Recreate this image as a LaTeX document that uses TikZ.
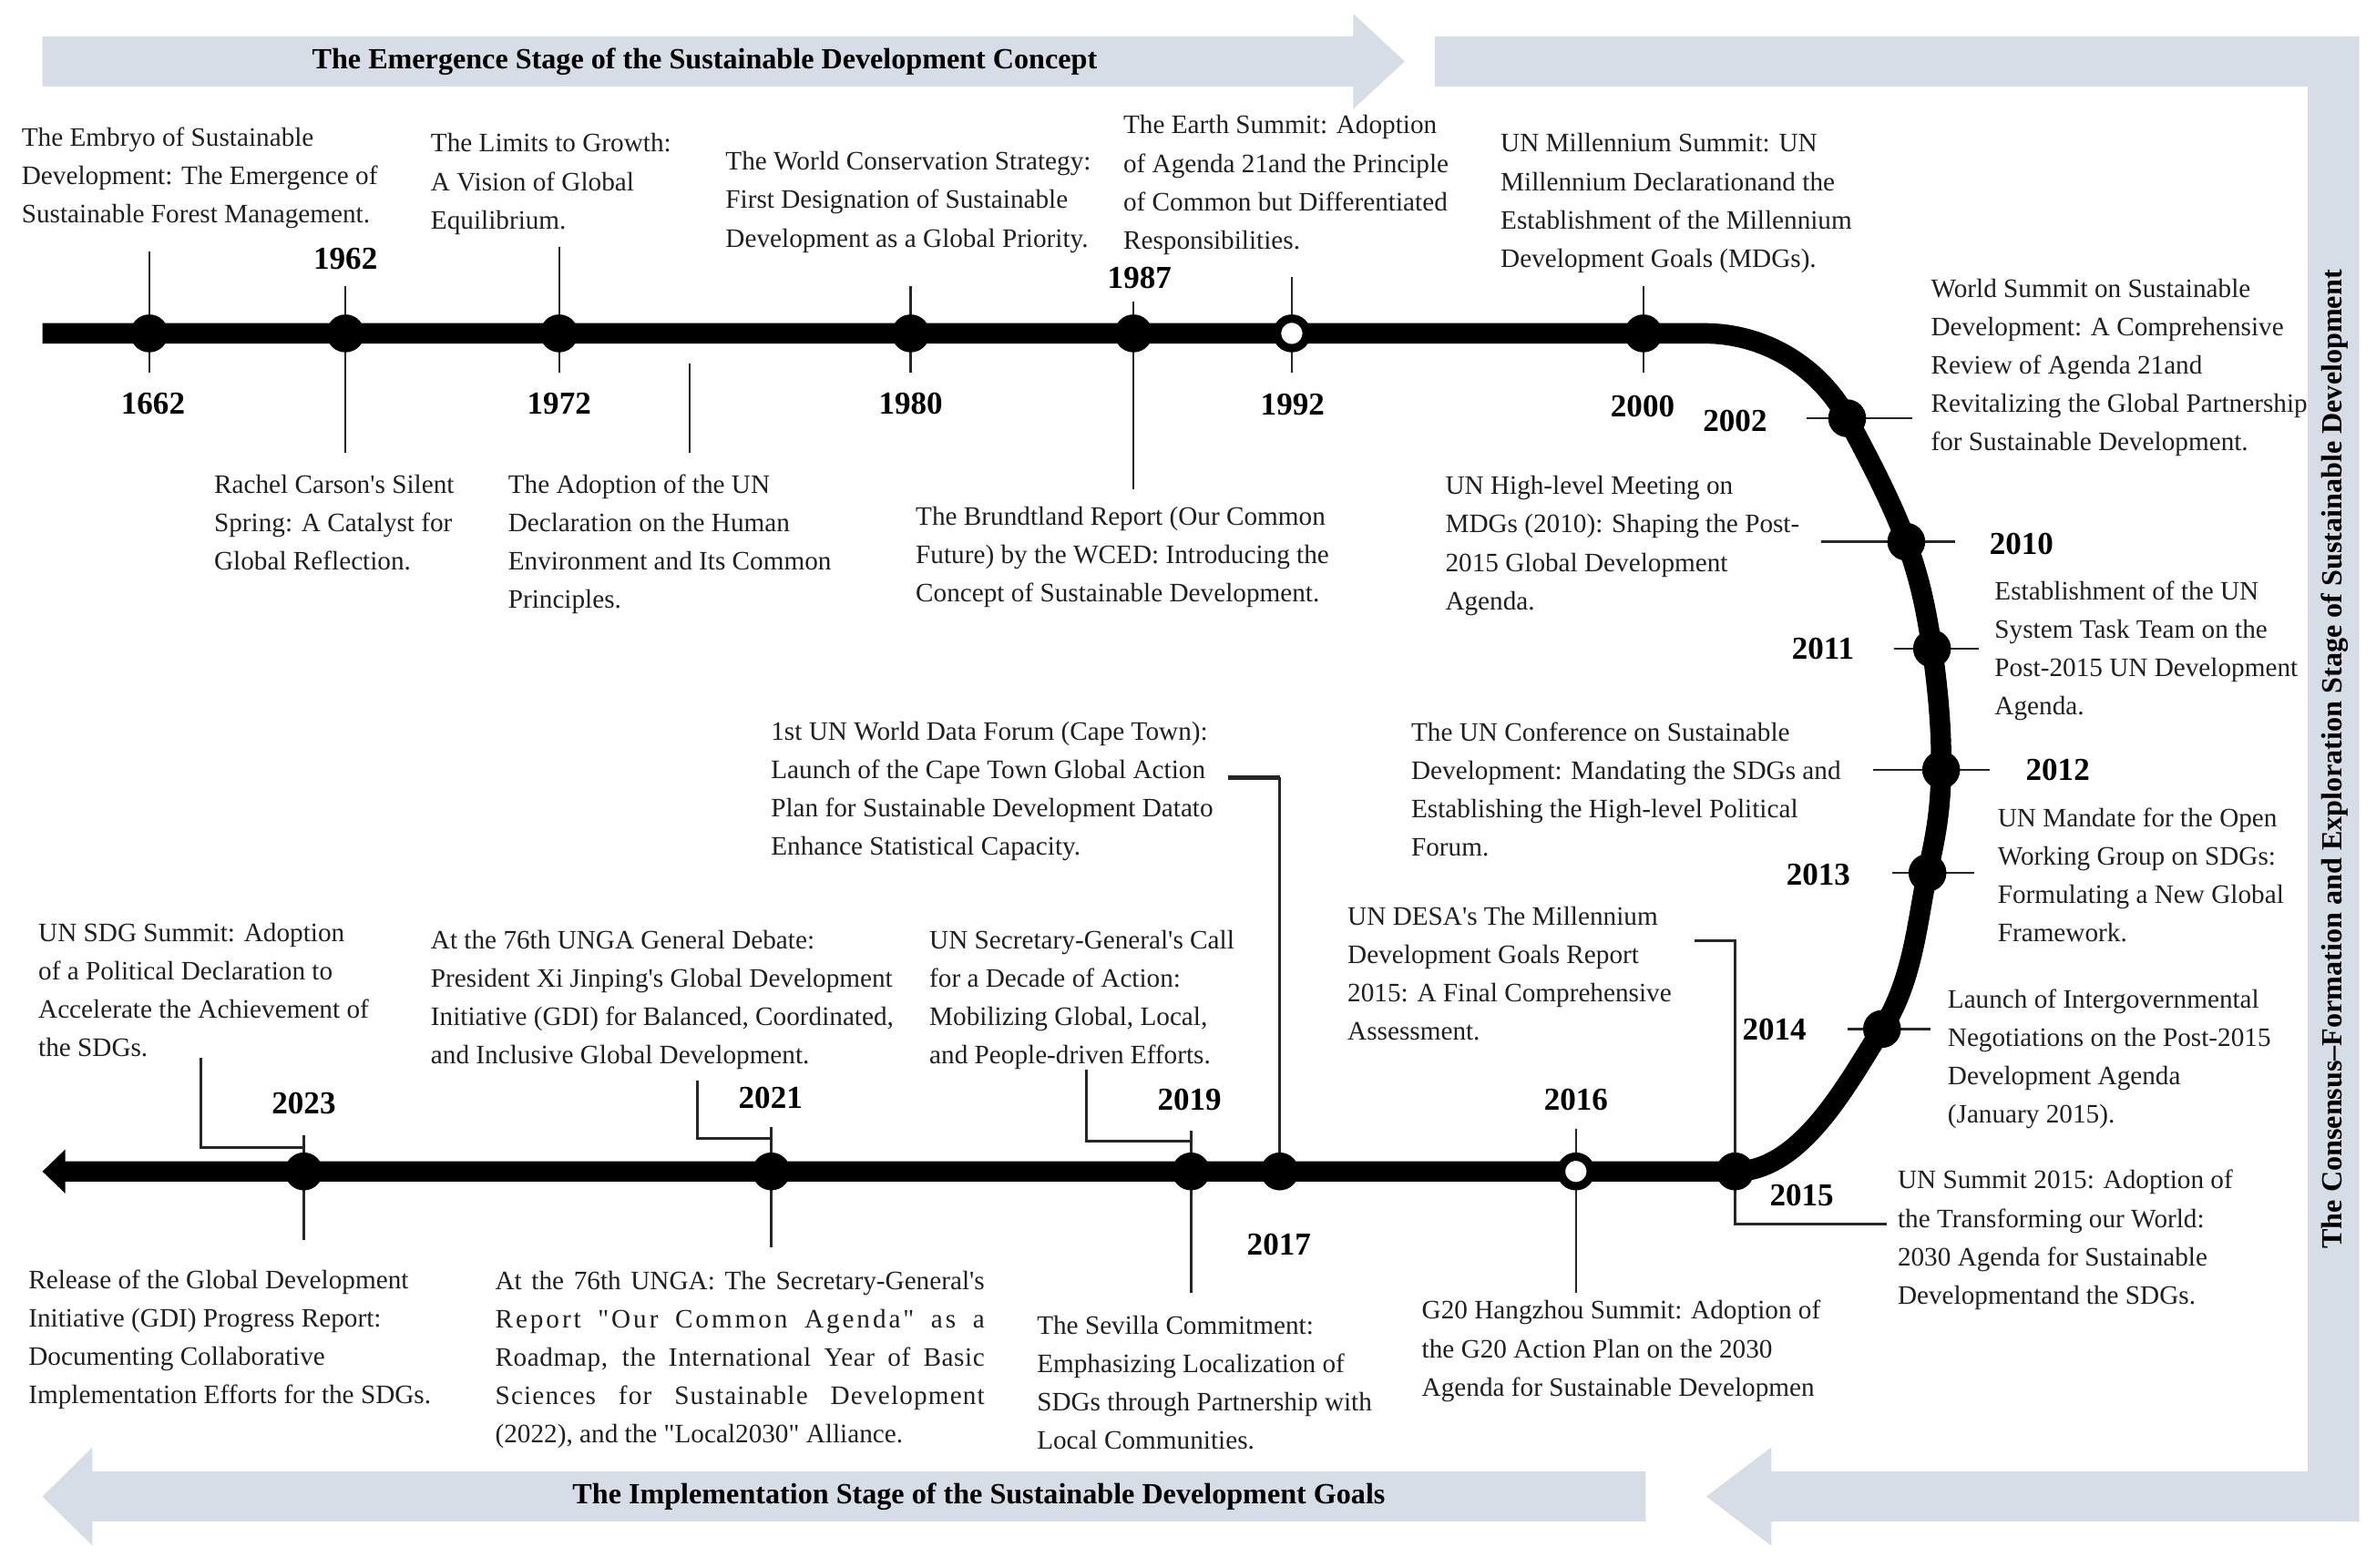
\documentclass[tikz,border=0pt]{standalone}
\usepackage{fontspec}
\setmainfont{Liberation Serif}[Ligatures=TeXOff]
\usetikzlibrary{positioning,calc,arrows.meta}
\definecolor{bandgray}{RGB}{214,221,231}
\tikzset{
  evt/.style={align=left, inner sep=0pt, anchor=north west, yshift=7.5pt, text=black!88,
    font=\fontsize{10}{14.4}\selectfont, execute at begin node={\rule{0pt}{7.5pt}}},
  year/.style={inner sep=0pt, font=\fontsize{12}{14}\selectfont\bfseries},
  stage/.style={inner sep=0pt, font=\fontsize{11}{13}\selectfont\bfseries},
  dot/.style={circle, fill=black, inner sep=0pt, minimum size=0.5cm},
  opendot/.style={circle, draw=black, fill=white, line width=0.11cm, inner sep=0pt, minimum size=0.39cm},
  tick/.style={draw=black!85, line width=0.8pt},
  elbow/.style={draw=black!85, line width=1pt},
  axis/.style={draw=black, line width=0.27cm, line join=round},
  band/.style={fill=bandgray, draw=none}
}
\newcommand{\jline}[2][0]{\makebox[6.46cm][s]{\addfontfeature{LetterSpace=#1}#2}}

\begin{document}
\begin{tikzpicture}[x=0.02cm, y=-0.02cm]
    \useasboundingbox (0,0) rectangle (1568,1034.7);

    % stage arrows
    \fill[band] (28,24) -- (893,24) -- (893,9) -- (927,40.5) -- (893,72) -- (893,57) -- (28,57) -- cycle;
    \fill[band] (947,24) -- (1557,24) -- (1557,1004) -- (1169,1004) -- (1169,1020) -- (1126,987.5)
      -- (1169,955) -- (1169,971) -- (1523,971) -- (1523,57) -- (947,57) -- cycle;
    \fill[band] (1086,971) -- (1086,1004) -- (61,1004) -- (61,1020) -- (28,987.5) -- (61,955) -- (61,971) -- cycle;
    \node[stage] (emerge) at (465,40.5) {The Emergence Stage of the Sustainable Development Concept};
    \node[stage, rotate=90] (consensus) at (1541,501) {The Consensus–Formation and Exploration Stage of Sustainable Development};
    \node[stage] (implement) at (646,987.5) {The Implementation Stage of the Sustainable Development Goals};

    % milestones
    \coordinate (m1662) at (98.5,220);
    \coordinate (m1962) at (228,220);
    \coordinate (m1972) at (369,220);
    \coordinate (m1980) at (601,220);
    \coordinate (m1987) at (748,220);
    \coordinate (m1992) at (852.5,220);
    \coordinate (m2000) at (1084.5,220);
    \coordinate (m2002) at (1219,276);
    \coordinate (m2010) at (1258,357.5);
    \coordinate (m2011) at (1275,428);
    \coordinate (m2012) at (1281,508);
    \coordinate (m2013) at (1272,576);
    \coordinate (m2014) at (1242,679);
    \coordinate (m2015) at (1145,773);
    \coordinate (m2016) at (1040,773);
    \coordinate (m2017) at (844.5,773);
    \coordinate (m2019) at (786,773);
    \coordinate (m2021) at (509,773);
    \coordinate (m2023) at (200.5,773);

    % ticks
    \draw[tick] ($(m1662)+(0,-54)$) -- ($(m1662)+(0,26)$);
    \draw[tick] ($(m1962)+(0,-31)$) -- ($(m1962)+(0,79)$);
    \draw[tick] ($(m1972)+(0,-57)$) -- ($(m1972)+(0,26)$);
    \draw[tick] ($(m1972)+(86,20)$) -- ($(m1972)+(86,79)$);
    \draw[tick] ($(m1980)+(0,-31)$) -- ($(m1980)+(0,26)$);
    \draw[tick] ($(m1987)+(0,-21)$) -- ($(m1987)+(0,103)$);
    \draw[tick] ($(m1992)+(0,-37)$) -- ($(m1992)+(0,26)$);
    \draw[tick] ($(m2000)+(0,-31)$) -- ($(m2000)+(0,26)$);
    \draw[tick] ($(m2002)+(-27,0)$) -- ($(m2002)+(43,0)$);
    \draw[tick] ($(m2010)+(-56,0)$) -- ($(m2010)+(32,0)$);
    \draw[tick] ($(m2011)+(-25,0)$) -- ($(m2011)+(31,0)$);
    \draw[tick] ($(m2012)+(-45,0)$) -- ($(m2012)+(32,0)$);
    \draw[tick] ($(m2013)+(-23,0)$) -- ($(m2013)+(31,0)$);
    \draw[tick] ($(m2014)+(-23,0)$) -- ($(m2014)+(32,0)$);
    \draw[tick] ($(m2016)+(0,-28)$) -- ($(m2016)+(0,80)$);
    \draw[tick] ($(m2019)+(0,-27)$) -- ($(m2019)+(0,80)$);
    \draw[tick] ($(m2021)+(0,-29)$) -- ($(m2021)+(0,50)$);
    \draw[tick] ($(m2023)+(0,-24)$) -- ($(m2023)+(0,45)$);

    % elbow connectors
    \draw[elbow] ($(m2015)+(-27,-152)$) -| (m2015);
    \draw[elbow] (m2015) |- ($(m2015)+(100,35)$);
    \draw[elbow, line width=1.8pt] ($(m2017)+(-34,-260)$) -- ($(m2017)+(0,-260)$);
    \draw[elbow] ($(m2017)+(0,-260)$) -- (m2017);
    \draw[elbow] ($(m2019)+(-69,-67)$) |- ($(m2019)+(0,-20)$) -- (m2019);
    \draw[elbow] ($(m2021)+(-49,-60)$) |- ($(m2021)+(0,-22)$) -- (m2021);
    \draw[elbow] ($(m2023)+(-68,-75)$) |- ($(m2023)+(0,-16)$) -- (m2023);

    % timeline
    \draw[axis, -{Triangle[length=0.3cm, width=0.56cm]}] (28,220) -- (1125,220)
      .. controls (1164,220) and (1200.3,241.5) .. (m2002)
      .. controls (1233.3,302.5) and (1248.7,332.2) .. (m2010)
      .. controls (1267.3,382.8) and (1271.2,402.9) .. (m2011)
      .. controls (1278.8,453.1) and (1281.5,483.3) .. (m2012)
      .. controls (1280.5,532.7) and (1278.5,547.5) .. (m2013)
      .. controls (1265.5,604.5) and (1263.2,646.3) .. (m2014)
      .. controls (1220.8,711.7) and (1189.7,773) .. (m2015)
      -- (28,773);

    \foreach \m in {1662,1962,1972,1980,1987,2000,2002,2010,2011,2012,2013,2014,2015,2017,2019,2021,2023}
      \node[dot] (d\m) at (m\m) {};
    \node[opendot] (d1992) at (m1992) {};
    \node[opendot] (d2016) at (m2016) {};

    % years
    \node[year] (t1662) at (101,266.5) {1662};
    \node[year] (t1962) at (228,171) {1962};
    \node[year] (t1972) at (369,266.5) {1972};
    \node[year] (t1980) at (601,266.5) {1980};
    \node[year] (t1987) at (752,183.5) {1987};
    \node[year] (t1992) at (853,267) {1992};
    \node[year] (t2000) at (1084,268) {2000};
    \node[year] (t2002) at (1145,278) {2002};
    \node[year] (t2010) at (1334,359) {2010};
    \node[year] (t2011) at (1203,428) {2011};
    \node[year] (t2012) at (1358,508) {2012};
    \node[year] (t2013) at (1200,577) {2013};
    \node[year] (t2014) at (1171,679.5) {2014};
    \node[year] (t2015) at (1189,789) {2015};
    \node[year] (t2016) at (1040,725.5) {2016};
    \node[year] (t2017) at (844,821) {2017};
    \node[year] (t2019) at (785,725.5) {2019};
    \node[year] (t2021) at (508.5,724.5) {2021};
    \node[year] (t2023) at (200.5,728) {2023};

    % events
    \node[evt] (e1662) at (14,97) {The Embryo of Sustainable\\Development: The Emergence of\\Sustainable Forest Management.};
    \node[evt] (e1962) at (141,326) {Rachel Carson's Silent\\Spring: A Catalyst for\\Global Reflection.};
    \node[evt] (e1972a) at (284,101) {The Limits to Growth:\\A Vision of Global\\Equilibrium.};
    \node[evt] (e1972b) at (335,326) {The Adoption of the UN\\Declaration on the Human\\Environment and Its Common\\Principles.};
    \node[evt] (e1980) at (478.5,113) {The World Conservation Strategy:\\First Designation of Sustainable\\Development as a Global Priority.};
    \node[evt] (e1987) at (604,347) {The Brundtland Report (Our Common\\Future) by the WCED: Introducing the\\Concept of Sustainable Development.};
    \node[evt] (e1992) at (741,89) {The Earth Summit: Adoption\\of Agenda 21and the Principle\\of Common but Differentiated\\Responsibilities.};
    \node[evt] (e2000) at (990,101) {UN Millennium Summit: UN\\Millennium Declarationand the\\Establishment of the Millennium\\Development Goals (MDGs).};
    \node[evt] (e2002) at (1274,197) {World Summit on Sustainable\\Development: A Comprehensive\\Review of Agenda 21and\\Revitalizing the Global Partnership\\for Sustainable Development.};
    \node[evt] (e2010) at (953.5,327) {UN High-level Meeting on\\MDGs (2010): Shaping the Post-\\2015 Global Development\\Agenda.};
    \node[evt] (e2011) at (1316,396.5) {Establishment of the UN\\System Task Team on the\\Post-2015 UN Development\\Agenda.};
    \node[evt] (e2012) at (931,489.5) {The UN Conference on Sustainable\\Development: Mandating the SDGs and\\Establishing the High-level Political\\Forum.};
    \node[evt] (e2013) at (1318,546) {UN Mandate for the Open\\Working Group on SDGs:\\Formulating a New Global\\Framework.};
    \node[evt] (e2014) at (1285,665.5) {Launch of Intergovernmental\\Negotiations on the Post-2015\\Development Agenda\\(January 2015).};
    \node[evt] (e2015a) at (889,611) {UN DESA's The Millennium\\Development Goals Report\\2015: A Final Comprehensive\\Assessment.};
    \node[evt] (e2015b) at (1252,785) {UN Summit 2015: Adoption of\\the Transforming our World:\\2030 Agenda for Sustainable\\Developmentand the SDGs.};
    \node[evt] (e2016) at (938,871) {G20 Hangzhou Summit: Adoption of\\the G20 Action Plan on the 2030\\Agenda for Sustainable Developmen};
    \node[evt] (e2017) at (508.5,489) {1st UN World Data Forum (Cape Town):\\Launch of the Cape Town Global Action\\Plan for Sustainable Development Datato\\Enhance Statistical Capacity.};
    \node[evt] (e2019a) at (613,626.5) {UN Secretary-General's Call\\for a Decade of Action:\\Mobilizing Global, Local,\\and People-driven Efforts.};
    \node[evt] (e2019b) at (684,881) {The Sevilla Commitment:\\Emphasizing Localization of\\SDGs through Partnership with\\Local Communities.};
    \node[evt] (e2021a) at (284,626.5) {At the 76th UNGA General Debate:\\President Xi Jinping's Global Development\\Initiative (GDI) for Balanced, Coordinated,\\and Inclusive Global Development.};
    \node[evt] (e2021b) at (326.5,851.5) {\jline{At the 76th UNGA: The Secretary-General's}\\\jline[10]{Report "Our Common Agenda" as a}\\\jline[2]{Roadmap, the International Year of Basic}\\\jline[4]{Sciences for Sustainable Development}\\(2022), and the "Local2030" Alliance.};
    \node[evt] (e2023a) at (25,622) {UN SDG Summit: Adoption\\of a Political Declaration to\\Accelerate the Achievement of\\the SDGs.};
    \node[evt] (e2023b) at (18.5,851) {Release of the Global Development\\Initiative (GDI) Progress Report:\\Documenting Collaborative\\Implementation Efforts for the SDGs.};
\end{tikzpicture}
\end{document}
